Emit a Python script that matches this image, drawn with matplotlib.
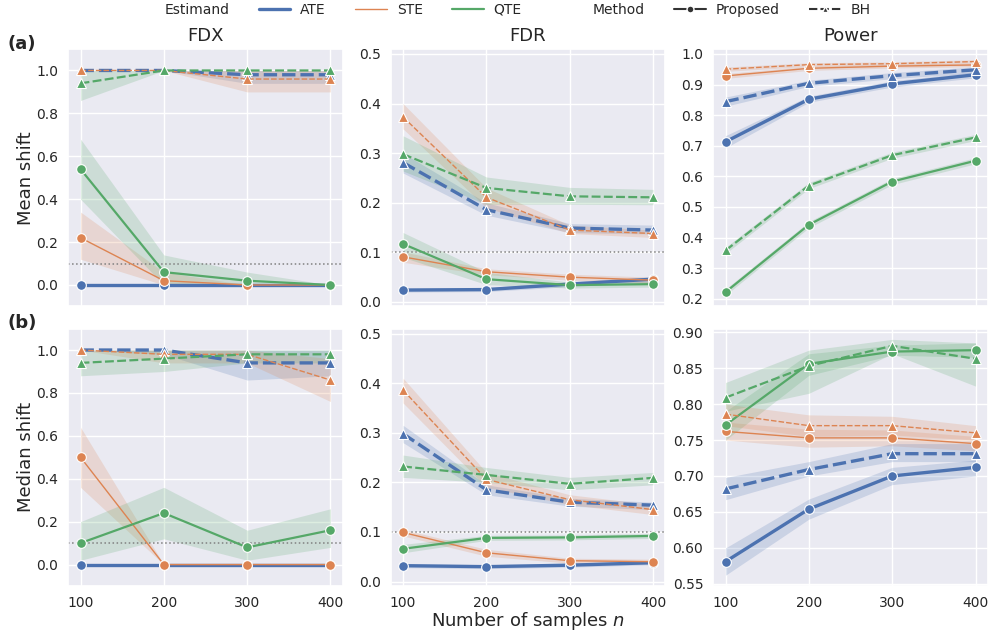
import numpy as np
import matplotlib.pyplot as plt
import seaborn as sns
from matplotlib.lines import Line2D
from matplotlib.ticker import FormatStrFormatter

sns.set_theme(style="darkgrid")
plt.rcParams["font.family"] = ["DejaVu Sans"]

n_samples = [100, 200, 300, 400]
estimands = ["ATE", "STE", "QTE"]
methods = ["Proposed", "BH"]

# each entry: (estimate, lower CI, upper CI) over n_samples
mean_fdx = {
    ("ATE", "Proposed"): ([0.0, 0.0, 0.0, 0.0], [0.0, 0.0, 0.0, 0.0], [0.0, 0.0, 0.0, 0.0]),
    ("STE", "Proposed"): ([0.22, 0.02, 0.0, 0.0], [0.12, 0.0, 0.0, 0.0], [0.34, 0.06, 0.0, 0.0]),
    ("QTE", "Proposed"): ([0.54, 0.06, 0.02, 0.0], [0.40, 0.0, 0.0, 0.0], [0.68, 0.14, 0.06, 0.0]),
    ("ATE", "BH"): ([1.0, 1.0, 0.98, 0.98], [1.0, 1.0, 0.94, 0.94], [1.0, 1.0, 1.0, 1.0]),
    ("STE", "BH"): ([1.0, 1.0, 0.96, 0.96], [1.0, 1.0, 0.90, 0.90], [1.0, 1.0, 1.0, 1.0]),
    ("QTE", "BH"): ([0.94, 1.0, 1.0, 1.0], [0.86, 1.0, 1.0, 1.0], [1.0, 1.0, 1.0, 1.0]),
}
mean_fdr = {
    ("ATE", "Proposed"): ([0.024, 0.025, 0.036, 0.046], [0.020, 0.021, 0.031, 0.040], [0.028, 0.029, 0.041, 0.051]),
    ("STE", "Proposed"): ([0.091, 0.061, 0.050, 0.044], [0.080, 0.055, 0.044, 0.038], [0.101, 0.067, 0.056, 0.050]),
    ("QTE", "Proposed"): ([0.117, 0.046, 0.034, 0.036], [0.090, 0.035, 0.028, 0.030], [0.140, 0.060, 0.040, 0.042]),
    ("ATE", "BH"): ([0.281, 0.186, 0.149, 0.145], [0.260, 0.175, 0.140, 0.137], [0.300, 0.200, 0.158, 0.155]),
    ("STE", "BH"): ([0.373, 0.211, 0.145, 0.138], [0.349, 0.190, 0.138, 0.130], [0.400, 0.230, 0.155, 0.145]),
    ("QTE", "BH"): ([0.298, 0.230, 0.213, 0.211], [0.264, 0.197, 0.197, 0.196], [0.335, 0.252, 0.231, 0.227]),
}
mean_power = {
    ("ATE", "Proposed"): ([0.713, 0.852, 0.902, 0.932], [0.693, 0.842, 0.892, 0.922], [0.733, 0.862, 0.912, 0.942]),
    ("STE", "Proposed"): ([0.928, 0.953, 0.960, 0.964], [0.920, 0.946, 0.954, 0.958], [0.936, 0.960, 0.966, 0.970]),
    ("QTE", "Proposed"): ([0.222, 0.442, 0.583, 0.651], [0.212, 0.432, 0.573, 0.641], [0.232, 0.452, 0.593, 0.661]),
    ("ATE", "BH"): ([0.844, 0.904, 0.929, 0.948], [0.829, 0.894, 0.919, 0.938], [0.859, 0.914, 0.939, 0.958]),
    ("STE", "BH"): ([0.950, 0.965, 0.968, 0.975], [0.943, 0.959, 0.962, 0.969], [0.957, 0.971, 0.974, 0.981]),
    ("QTE", "BH"): ([0.358, 0.570, 0.669, 0.727], [0.348, 0.560, 0.659, 0.717], [0.368, 0.580, 0.679, 0.737]),
}
median_fdx = {
    ("ATE", "Proposed"): ([0.0, 0.0, 0.0, 0.0], [0.0, 0.0, 0.0, 0.0], [0.0, 0.0, 0.0, 0.0]),
    ("STE", "Proposed"): ([0.50, 0.0, 0.0, 0.0], [0.36, 0.0, 0.0, 0.0], [0.64, 0.0, 0.0, 0.0]),
    ("QTE", "Proposed"): ([0.10, 0.24, 0.08, 0.16], [0.02, 0.12, 0.02, 0.08], [0.20, 0.36, 0.16, 0.26]),
    ("ATE", "BH"): ([1.0, 1.0, 0.94, 0.94], [1.0, 0.98, 0.86, 0.88], [1.0, 1.0, 1.0, 1.0]),
    ("STE", "BH"): ([1.0, 0.98, 0.98, 0.86], [1.0, 0.94, 0.94, 0.76], [1.0, 1.0, 1.0, 0.96]),
    ("QTE", "BH"): ([0.94, 0.96, 0.98, 0.98], [0.88, 0.90, 0.94, 0.94], [1.0, 1.0, 1.0, 1.0]),
}
median_fdr = {
    ("ATE", "Proposed"): ([0.032, 0.030, 0.033, 0.038], [0.028, 0.026, 0.029, 0.034], [0.036, 0.034, 0.037, 0.042]),
    ("STE", "Proposed"): ([0.099, 0.058, 0.042, 0.040], [0.092, 0.051, 0.037, 0.035], [0.105, 0.065, 0.047, 0.045]),
    ("QTE", "Proposed"): ([0.066, 0.088, 0.089, 0.092], [0.058, 0.083, 0.084, 0.087], [0.075, 0.093, 0.094, 0.097]),
    ("ATE", "BH"): ([0.298, 0.185, 0.160, 0.154], [0.280, 0.175, 0.152, 0.145], [0.315, 0.195, 0.168, 0.160]),
    ("STE", "BH"): ([0.386, 0.206, 0.165, 0.145], [0.360, 0.190, 0.155, 0.135], [0.410, 0.220, 0.175, 0.155]),
    ("QTE", "BH"): ([0.232, 0.215, 0.197, 0.209], [0.210, 0.200, 0.185, 0.195], [0.255, 0.230, 0.210, 0.220]),
}
median_power = {
    ("ATE", "Proposed"): ([0.581, 0.654, 0.700, 0.712], [0.562, 0.640, 0.688, 0.700], [0.600, 0.668, 0.712, 0.722]),
    ("STE", "Proposed"): ([0.762, 0.753, 0.753, 0.745], [0.750, 0.740, 0.742, 0.735], [0.775, 0.765, 0.764, 0.755]),
    ("QTE", "Proposed"): ([0.771, 0.856, 0.873, 0.875], [0.750, 0.840, 0.868, 0.865], [0.790, 0.870, 0.882, 0.885]),
    ("ATE", "BH"): ([0.682, 0.709, 0.731, 0.731], [0.667, 0.700, 0.720, 0.720], [0.698, 0.720, 0.745, 0.745]),
    ("STE", "BH"): ([0.786, 0.770, 0.770, 0.760], [0.770, 0.755, 0.757, 0.750], [0.800, 0.785, 0.783, 0.770]),
    ("QTE", "BH"): ([0.809, 0.853, 0.881, 0.863], [0.790, 0.815, 0.870, 0.825], [0.830, 0.875, 0.890, 0.885]),
}

colors = dict(zip(estimands, sns.color_palette("deep", 3)))
widths = {"ATE": 2.4, "STE": 1.0, "QTE": 1.6}
markers = {"Proposed": "o", "BH": "^"}
dashes = {"Proposed": (None, None), "BH": (4, 1.5)}

panels = [[mean_fdx, mean_fdr, mean_power],
          [median_fdx, median_fdr, median_power]]
titles = ["FDX", "FDR", "Power"]
row_labels = ["Mean shift", "Median shift"]

fig, axes = plt.subplots(2, 3, figsize=(9.89, 6.34), dpi=100, sharex=True)
fig.subplots_adjust(left=0.0688, right=0.999, top=0.9227, bottom=0.0757,
                    wspace=0.173, hspace=0.086)

for r in range(2):
    for c in range(3):
        ax = axes[r, c]
        data = panels[r][c]
        for m in methods:
            for e in estimands:
                y, lo, hi = data[(e, m)]
                ax.fill_between(n_samples, lo, hi, color=colors[e], alpha=0.2, lw=0)
        for m in methods:
            for e in estimands:
                y, lo, hi = data[(e, m)]
                line, = ax.plot(n_samples, y, color=colors[e], lw=widths[e],
                                marker=markers[m], ms=7, mec="white", mew=0.8)
                if m == "BH":
                    line.set_dashes(dashes[m])
        if c < 2:
            ax.axhline(0.1, color="gray", ls=":", lw=1.1, zorder=1)
        ax.tick_params(labelsize=10, pad=1)
        if r == 0:
            ax.set_title(titles[c], fontsize=13, pad=6)
        if c == 0:
            ax.set_ylabel(row_labels[r], fontsize=13, labelpad=1)
            ax.set_ylim(-0.1, 1.1)
            ax.set_yticks(np.arange(0, 1.01, 0.2))
        elif c == 1:
            ax.set_ylim(-0.009, 0.51)
            ax.set_yticks(np.arange(0, 0.51, 0.1))
        ax.yaxis.set_major_formatter(FormatStrFormatter("%.1f"))

axes[0, 2].set_ylim(0.175, 1.016)
axes[0, 2].set_yticks(np.arange(0.2, 1.01, 0.1))
axes[1, 2].set_ylim(0.547, 0.905)
axes[1, 2].set_yticks(np.arange(0.55, 0.91, 0.05))
axes[1, 2].yaxis.set_major_formatter(FormatStrFormatter("%.2f"))
axes[1, 0].set_xlim(85, 415)
axes[1, 0].set_xticks(n_samples)
axes[1, 1].set_xlabel("Number of samples $n$", fontsize=13, labelpad=0)

fig.text(0.008, 0.93, "(a)", fontsize=13, fontweight="bold", va="center")
fig.text(0.008, 0.49, "(b)", fontsize=13, fontweight="bold", va="center")

blank = Line2D([], [], alpha=0)
handles = [blank] + [Line2D([], [], color=colors[e], lw=widths[e]) for e in estimands]
handles += [blank,
            Line2D([], [], color=".2", lw=1.5, marker="o", ms=5, mec="white"),
            Line2D([], [], color=".2", lw=1.5, marker="^", ms=5, mec="white", dashes=(4, 1.5))]
labels = ["Estimand"] + estimands + ["Method"] + methods
leg = fig.legend(handles, labels, loc="upper center", ncol=8, frameon=False,
                 fontsize=10, bbox_to_anchor=(0.502, 1.015), handlelength=2.3,
                 columnspacing=2.1, handletextpad=0.7)

fig.savefig("out.png", dpi=100)
